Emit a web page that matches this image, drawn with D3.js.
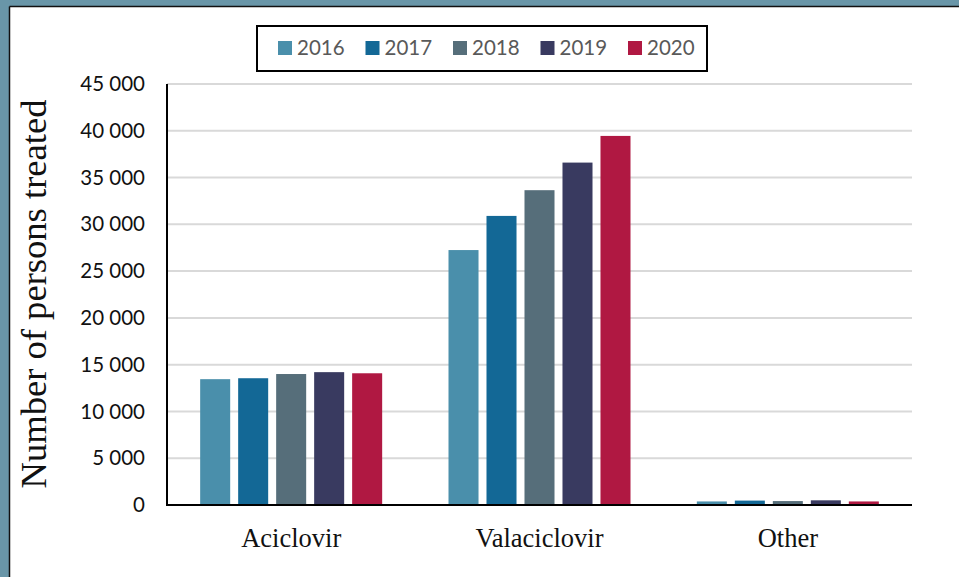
<!DOCTYPE html>
<html>
<head>
<meta charset="utf-8">
<script src="https://cdn.jsdelivr.net/npm/d3@7"></script>
<style>
  html, body { margin: 0; padding: 0; background: #6996a8; }
  svg { display: block; }
</style>
</head>
<body>
<svg id="chart" width="959" height="577"></svg>
<script>
const categories = ["Aciclovir", "Valaciclovir", "Other"];
const years = ["2016", "2017", "2018", "2019", "2020"];
const values2016 = [13450, 27250, 380];
const values2017 = [13550, 30900, 470];
const values2018 = [14000, 33650, 420];
const values2019 = [14200, 36600, 500];
const values2020 = [14080, 39450, 380];
const yTicks = [0, 5000, 10000, 15000, 20000, 25000, 30000, 35000, 40000, 45000];
const colors = ["#4a8fab", "#136896", "#566e7a", "#393a60", "#b01842"];
const yTitle = "Number of persons treated";

const series = [values2016, values2017, values2018, values2019, values2020];

const svg = d3.select("#chart");
// frame
svg.append("rect").attr("x", 0).attr("y", 0).attr("width", 959).attr("height", 577).attr("fill", "#6996a8");
svg.append("rect").attr("x", 10).attr("y", 7).attr("width", 949).attr("height", 570).attr("fill", "#ffffff");
svg.append("line").attr("x1", 9.5).attr("x2", 959).attr("y1", 6.5).attr("y2", 6.5).attr("stroke", "#111").attr("stroke-width", 1.5);
svg.append("line").attr("x1", 9.5).attr("x2", 9.5).attr("y1", 6.5).attr("y2", 577).attr("stroke", "#111").attr("stroke-width", 1.5);

const pL = 167, pR = 912, pT = 84, pB = 505;
const x0 = d3.scaleBand().domain(categories).range([pL, pR]).padding(0);
const groupW = 182;
const x1 = d3.scaleBand().domain(years).range([0, groupW]).paddingInner(0.21).paddingOuter(0);
const y = d3.scaleLinear().domain([0, 45000]).range([pB, pT]);

const fmt = v => v === 0 ? "0" : d3.format(",")(v).replace(/,/g, " ");

// gridlines
svg.append("g").selectAll("line").data(yTicks.filter(d => d > 0)).join("line")
  .attr("x1", pL).attr("x2", pR)
  .attr("y1", d => y(d)).attr("y2", d => y(d))
  .attr("stroke", "#d9d9d9").attr("stroke-width", 2);

// bars
const groups = svg.append("g").selectAll("g").data(categories).join("g")
  .attr("transform", c => `translate(${x0(c) + (x0.bandwidth() - groupW) / 2},0)`);
groups.selectAll("rect").data((c, ci) => years.map((yr, yi) => ({ yr, yi, v: series[yi][ci] }))).join("rect")
  .attr("x", d => x1(d.yr))
  .attr("width", x1.bandwidth())
  .attr("y", d => y(d.v))
  .attr("height", d => pB - y(d.v))
  .attr("fill", d => colors[d.yi]);

// y axis
const yAxis = d3.axisLeft(y).tickValues(yTicks).tickFormat(fmt).tickSize(0).tickPadding(22);
const gy = svg.append("g").attr("transform", `translate(${pL},0)`).call(yAxis);
gy.select(".domain").remove();
gy.selectAll("text").attr("font-family", "Lato, sans-serif").attr("font-size", "20.5px").attr("fill", "#111");
svg.append("line").attr("x1", pL).attr("x2", pL).attr("y1", pT).attr("y2", pB + 1)
  .attr("stroke", "#000").attr("stroke-width", 2);

// x axis
const xAxis = d3.axisBottom(x0).tickSize(0).tickPadding(23);
const gx = svg.append("g").attr("transform", `translate(0,${pB})`).call(xAxis);
gx.select(".domain").remove();
gx.selectAll("text").attr("font-family", "'Liberation Serif', serif").attr("font-size", "26.5px").attr("fill", "#111");
svg.append("line").attr("x1", pL - 1).attr("x2", pR).attr("y1", pB).attr("y2", pB)
  .attr("stroke", "#000").attr("stroke-width", 2);

// y title
svg.append("text")
  .attr("transform", `translate(46,294) rotate(-90)`)
  .attr("text-anchor", "middle")
  .attr("font-family", "'Liberation Serif', serif")
  .attr("font-size", "36.6px")
  .attr("fill", "#111")
  .text(yTitle);

// legend
svg.append("rect").attr("x", 257).attr("y", 26).attr("width", 450).attr("height", 45)
  .attr("fill", "#fff").attr("stroke", "#000").attr("stroke-width", 2);
const lg = svg.append("g").selectAll("g").data(years).join("g")
  .attr("transform", (d, i) => `translate(${278 + i * 87.5},48)`);
lg.append("rect").attr("x", 0).attr("y", -7).attr("width", 14).attr("height", 14).attr("fill", (d, i) => colors[i]);
lg.append("text").attr("x", 19).attr("y", 0).attr("dy", "0.36em")
  .attr("font-family", "Lato, sans-serif").attr("font-size", "20.5px").attr("fill", "#595959")
  .text(d => d);
</script>
</body>
</html>
